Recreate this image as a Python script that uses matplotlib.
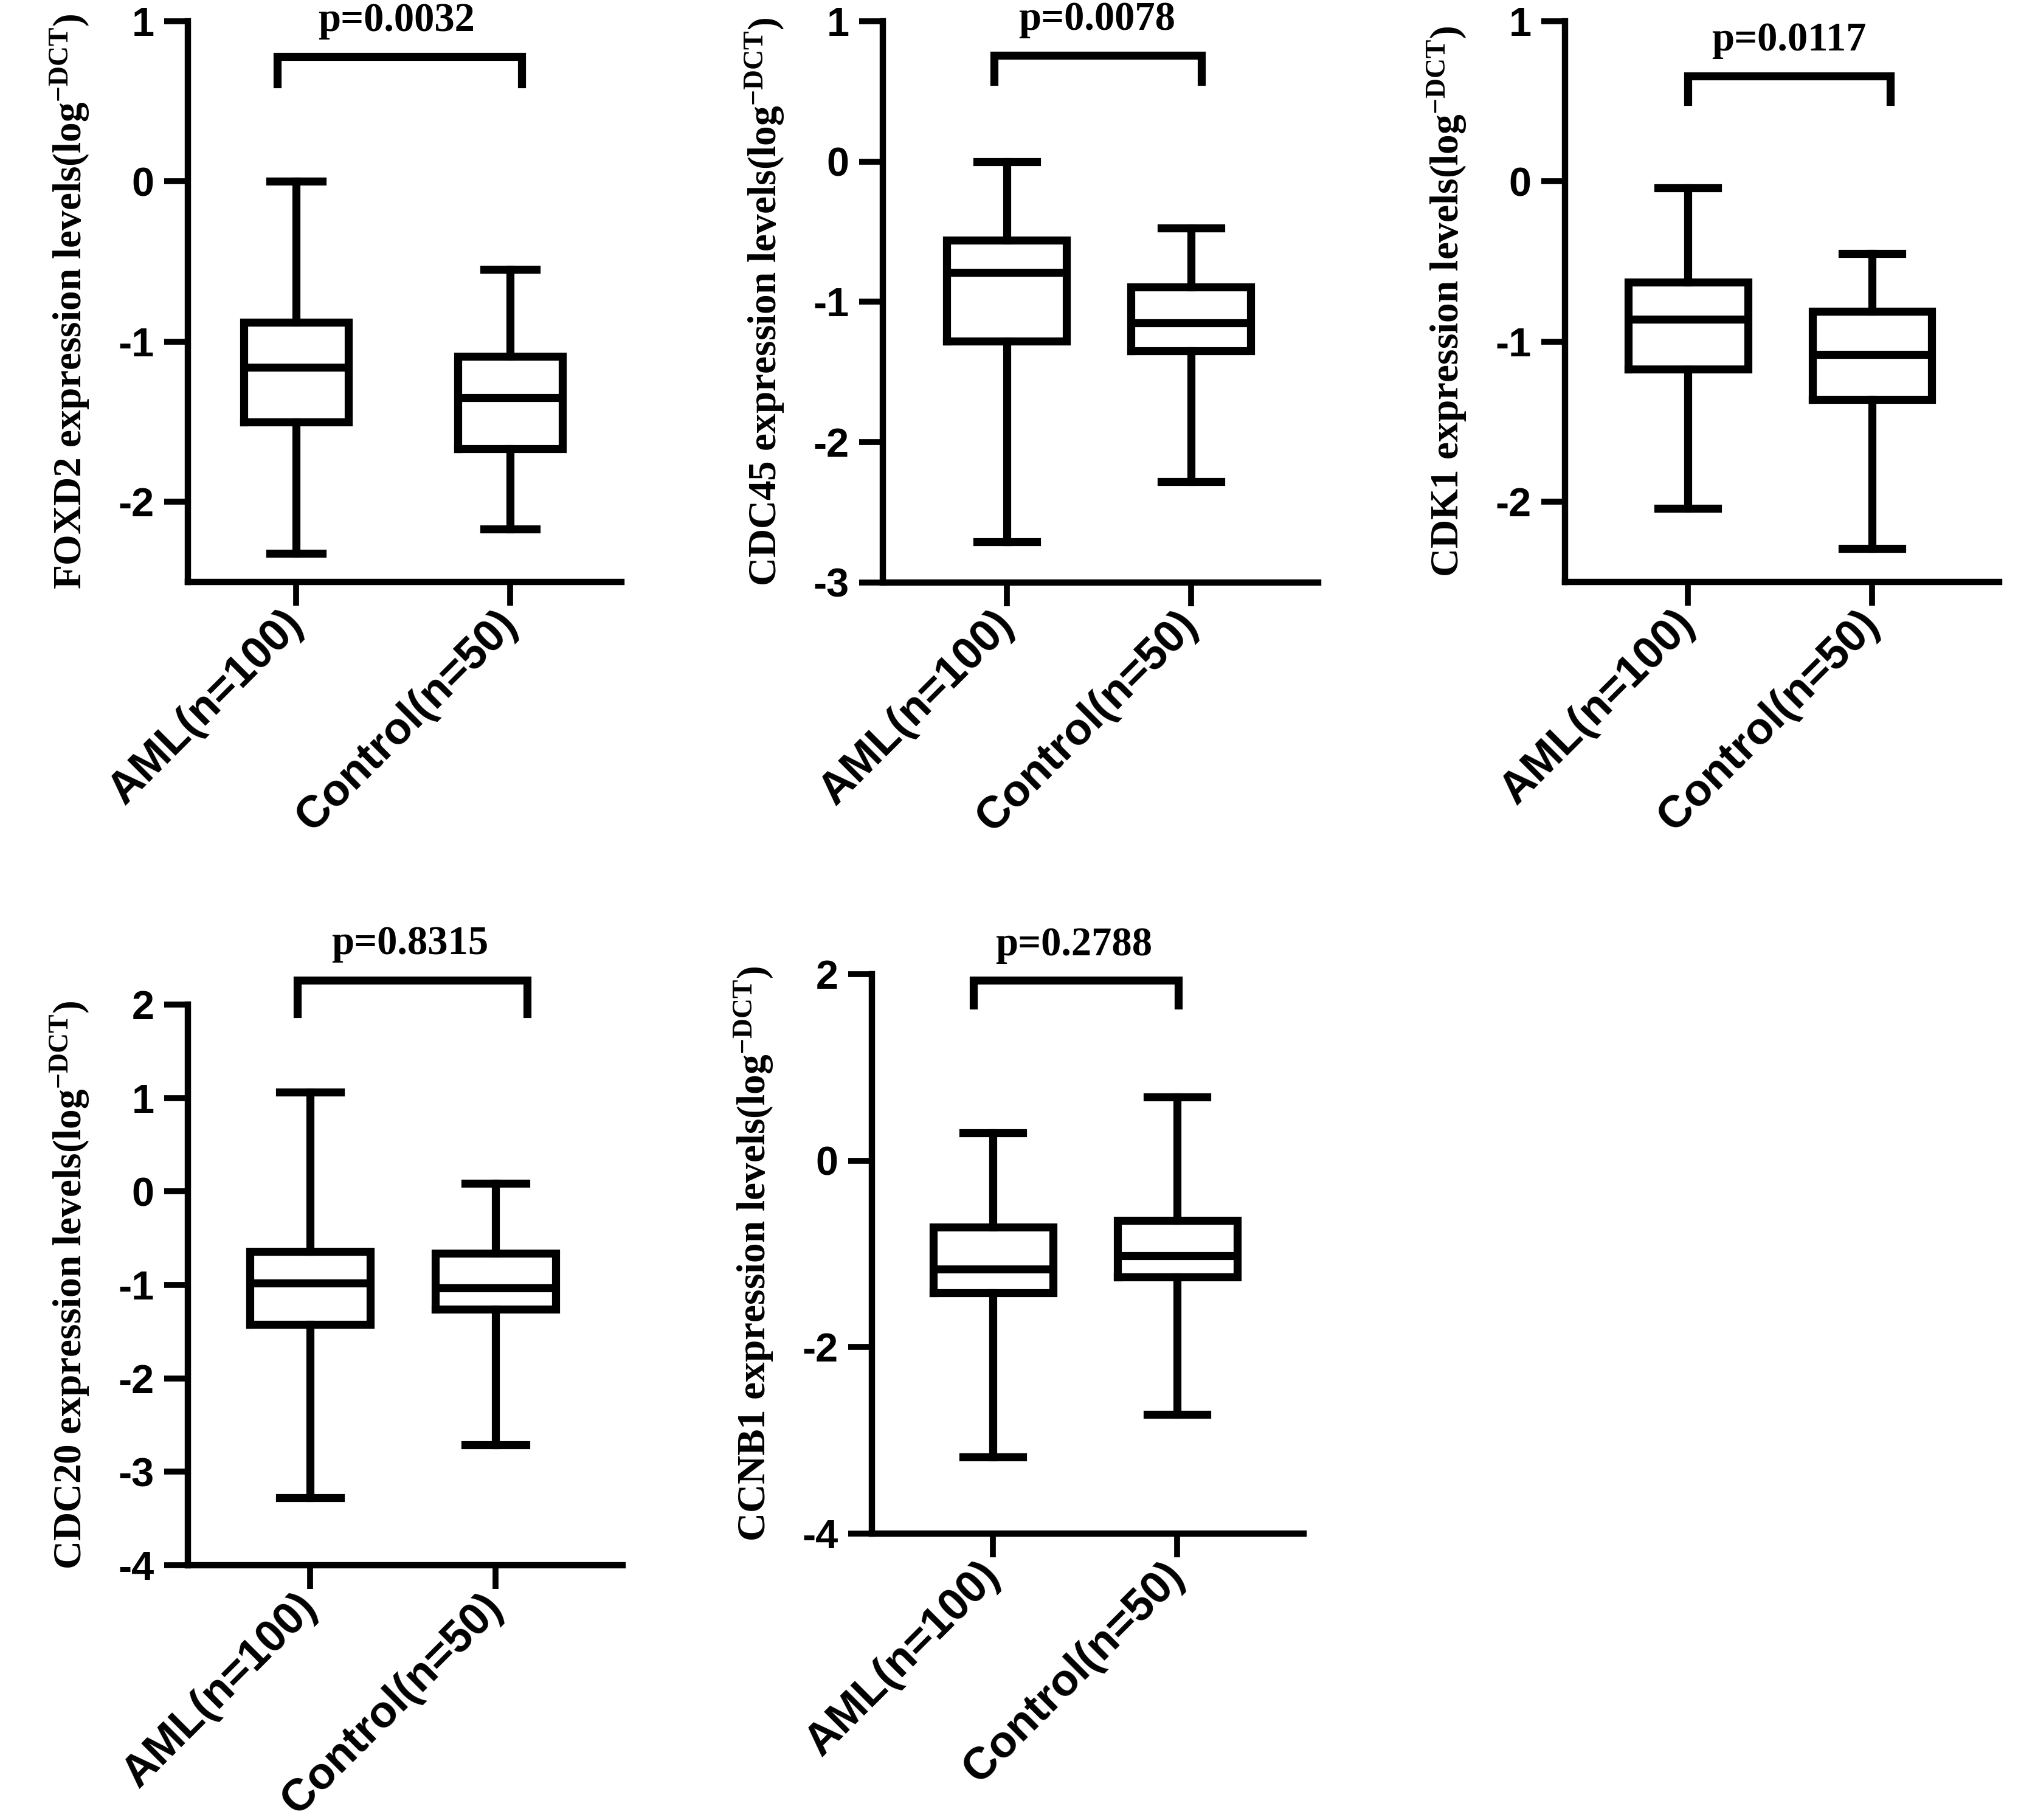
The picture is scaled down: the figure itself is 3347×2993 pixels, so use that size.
import matplotlib
matplotlib.use("Agg")
import matplotlib.pyplot as plt

plt.rcParams['font.family'] = ['Liberation Sans', 'DejaVu Sans']
plt.rcParams['font.weight'] = 'bold'
plt.rcParams['axes.unicode_minus'] = False
plt.rcParams['mathtext.fontset'] = 'custom'
plt.rcParams['mathtext.rm'] = 'Liberation Serif:bold'
plt.rcParams['mathtext.it'] = 'Liberation Serif:bold'
plt.rcParams['mathtext.bf'] = 'Liberation Serif:bold'

groups = ['AML(n=100)', 'Control(n=50)']
genes = ['FOXD2', 'CDC45', 'CDK1', 'CDC20', 'CCNB1']
p_values = ['p=0.0032', 'p=0.0078', 'p=0.0117', 'p=0.8315', 'p=0.2788']

# (whisker low, q1, median, q3, whisker high) for AML and Control
foxd2 = [(-2.32, -1.50, -1.16, -0.88, 0.00), (-2.17, -1.67, -1.35, -1.09, -0.55)]
cdc45 = [(-2.71, -1.28, -0.79, -0.56, 0.00), (-2.28, -1.35, -1.15, -0.895, -0.475)]
cdk1 = [(-2.04, -1.17, -0.86, -0.63, -0.04), (-2.29, -1.36, -1.08, -0.81, -0.45)]
cdc20 = [(-3.28, -1.42, -0.98, -0.64, 1.06), (-2.71, -1.26, -1.03, -0.66, 0.09)]
ccnb1 = [(-3.18, -1.42, -1.16, -0.71, 0.30), (-2.72, -1.245, -1.02, -0.64, 0.685)]
gene_stats = [foxd2, cdc45, cdk1, cdc20, ccnb1]

ylims = [(-2.5, 1), (-3, 1), (-2.5, 1), (-4, 2), (-4, 2)]
yticks = [[1, 0, -1, -2], [1, 0, -1, -2, -3], [1, 0, -1, -2],
          [2, 1, 0, -1, -2, -3, -4], [2, 0, -2, -4]]

# layout (pixels: left, top, right, bottom)
W, H = 3348, 2993
rects = [(309, 35, 1022, 957), (1452, 35, 2168, 958), (2574, 35, 3288, 957),
         (309, 1652, 1024, 2574), (1434, 1602, 2144, 2522)]
xlims = [(-0.506, 1.52), (-0.673, 1.69), (-0.667, 1.69), (-0.659, 1.685), (-0.657, 1.686)]
box_w = [0.49, 0.65, 0.65, 0.65, 0.65]
brackets = [(-0.088, 1.054, 0.78, 0.61), (-0.07, 1.056, 0.757, 0.57), (0.0, 1.10, 0.66, 0.50),
            (-0.07, 1.17, 2.26, 1.90), (-0.105, 1.007, 1.935, 1.67)]
ptext = [(0.47, 1.0), (0.49, 1.01), (0.55, 0.88), (0.54, 2.65), (0.44, 2.31)]

fig = plt.figure(figsize=(W / 100, H / 100), dpi=100)

lw = 9.5
for i, gene in enumerate(genes):
    l, t, r, b = rects[i]
    ax = fig.add_axes([l / W, 1 - b / H, (r - l) / W, (b - t) / H])
    stats = []
    for g, s in zip(groups, gene_stats[i]):
        stats.append(dict(label=g, whislo=s[0], q1=s[1], med=s[2], q3=s[3], whishi=s[4], fliers=[]))
    line = dict(color='black', linewidth=lw, solid_joinstyle='miter')
    ax.bxp(stats, positions=[0, 1], widths=box_w[i], showfliers=False,
           boxprops=line, whiskerprops=line, capprops=line, medianprops=line)
    ax.set_xlim(*xlims[i])
    ax.set_ylim(*ylims[i])
    ax.set_yticks(yticks[i])
    ax.set_xticks([0, 1])
    ax.set_xticklabels(groups, rotation=45, ha='right', va='center', rotation_mode='anchor',
                       fontsize=53, fontweight='bold')
    for side in ['top', 'right']:
        ax.spines[side].set_visible(False)
    for side in ['left', 'bottom']:
        ax.spines[side].set_linewidth(7.5)
    ax.tick_params(axis='both', width=7, length=28, color='black')
    ax.tick_params(axis='y', labelsize=48, pad=12)
    ax.tick_params(axis='x', pad=14)
    for lab in ax.get_yticklabels():
        lab.set_fontweight('bold')

    ax.set_ylabel(gene + ' expression levels(log$^{-DCT}$)', family='Liberation Serif',
                  fontweight='bold', fontsize=47, va='center')
    ax.yaxis.set_label_coords(-194 / (r - l), 0.5)

    x0, x1, ytop, yend = brackets[i]
    ax.plot([x0, x0, x1, x1], [yend, ytop, ytop, yend], color='black', linewidth=lw,
            solid_joinstyle='miter', clip_on=False)
    ax.text(ptext[i][0], ptext[i][1], p_values[i], ha='center', va='center',
            family='Liberation Serif', fontweight='bold', fontsize=48, clip_on=False)

fig.savefig('out.png', dpi=100)
